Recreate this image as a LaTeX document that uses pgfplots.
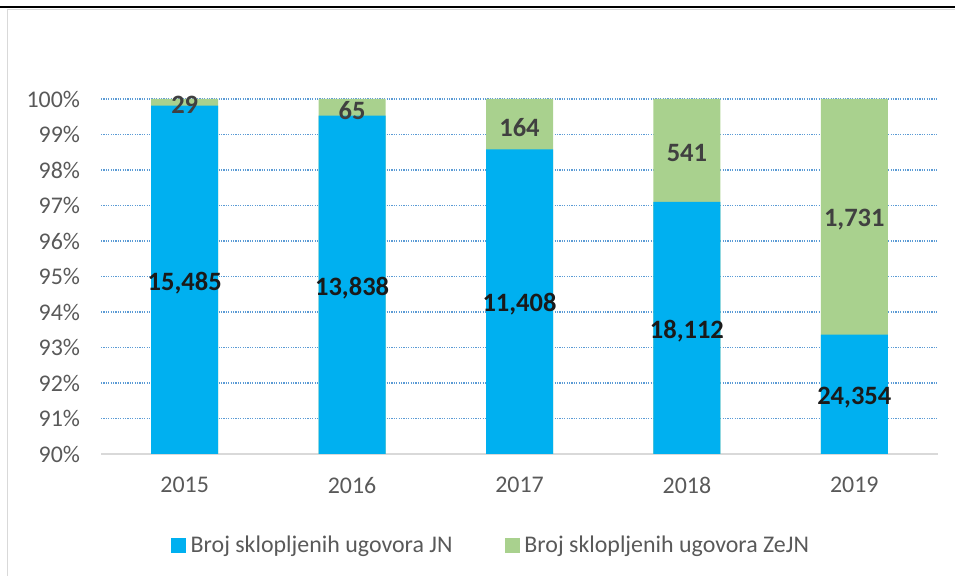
\documentclass[border=0pt]{standalone}
\usepackage{pgfplots}
\pgfplotsset{compat=1.18}
\usepackage{fontspec}
\setmainfont{Carlito}
\definecolor{jnblue}{HTML}{00B0F0}
\definecolor{zegreen}{HTML}{A9D18E}
\definecolor{txtgray}{HTML}{595959}
\definecolor{gridblue}{HTML}{5B9BD5}
\definecolor{axgray}{HTML}{D9D9D9}
\definecolor{labdark}{HTML}{1A1A1A}
\definecolor{labgray}{HTML}{404040}
\begin{document}
\begin{tikzpicture}
\useasboundingbox (0,0) rectangle (477.5bp,288bp);
\fill[black] (0,284.0bp) rectangle (477.5bp,284.9bp);
\draw[axgray, line width=0.8bp] (3.8bp,0) -- (3.8bp,283.2bp) -- (477.5bp,283.2bp);
\begin{axis}[
  at={(50.5bp,61bp)}, anchor=south west,
  scale only axis, width=418.5bp, height=177.5bp,
  xmin=-0.5, xmax=4.5, ymin=90, ymax=100,
  axis x line*=bottom, axis y line*=left,
  x axis line style={draw=axgray, line width=1bp},
  y axis line style={draw=none},
  major tick length=0pt,
  tick style={draw=none},
  xtick={0,1,2,3,4},
  xticklabels={2015,2016,2017,2018,2019},
  ytick={90,91,92,93,94,95,96,97,98,99,100},
  yticklabels={90\%,91\%,92\%,93\%,94\%,95\%,96\%,97\%,98\%,99\%,100\%},
  /pgf/number format/assume math mode=true,
  ticklabel style={font=\fontsize{12}{14}\selectfont, text=txtgray},
  yticklabel style={xshift=-7bp},
  xticklabel style={yshift=-8bp},
  ymajorgrids,
  grid style={gridblue, line width=0.6bp, dash pattern=on 0.6bp off 0.6bp},
  legend image code/.code={\fill (0bp,-3.75bp) rectangle (7.5bp,3.75bp); \path (8bp,0bp);},
  legend style={at={(0.467,-0.259)}, anchor=center, draw=none, fill=none,
    legend columns=2, font=\fontsize{12}{14}\selectfont, text=txtgray,
    /tikz/every even column/.append style={column sep=24bp}},
]
\addlegendimage{fill=jnblue, draw=none}
\addlegendentry{Broj sklopljenih ugovora JN}
\addlegendimage{fill=zegreen, draw=none}
\addlegendentry{Broj sklopljenih ugovora ZeJN}
% total (100%) shown as ZeJN on top, JN share drawn over it
\addplot[forget plot, ybar, bar width=33.5bp, bar shift=0pt, fill=zegreen, draw=none]
  coordinates {(0,100) (1,100) (2,100) (3,100) (4,100)};
\addplot[forget plot, ybar, bar width=33.5bp, bar shift=0pt, fill=jnblue, draw=none]
  coordinates {(0,99.813) (1,99.532) (2,98.583) (3,97.100) (4,93.364)};
% data labels (JN)
\addplot[forget plot, draw=none, mark=none, nodes near coords, point meta=explicit symbolic,
  nodes near coords style={anchor=center, yshift=-1.5bp, font=\fontsize{13.3}{15}\selectfont\bfseries, text=labdark}]
  table[meta=lab] {
x y lab
0 94.907 15,485
1 94.766 13,838
2 94.292 11,408
3 93.550 18,112
4 91.682 24,354
};
% data labels (ZeJN)
\addplot[forget plot, draw=none, mark=none, nodes near coords, point meta=explicit symbolic,
  nodes near coords style={anchor=center, yshift=-1.5bp, font=\fontsize{13.3}{15}\selectfont\bfseries, text=labgray}]
  table[meta=lab] {
x y lab
0 99.907 29
1 99.766 65
2 99.292 164
3 98.550 541
4 96.682 1,731
};
\end{axis}
\end{tikzpicture}
\end{document}
